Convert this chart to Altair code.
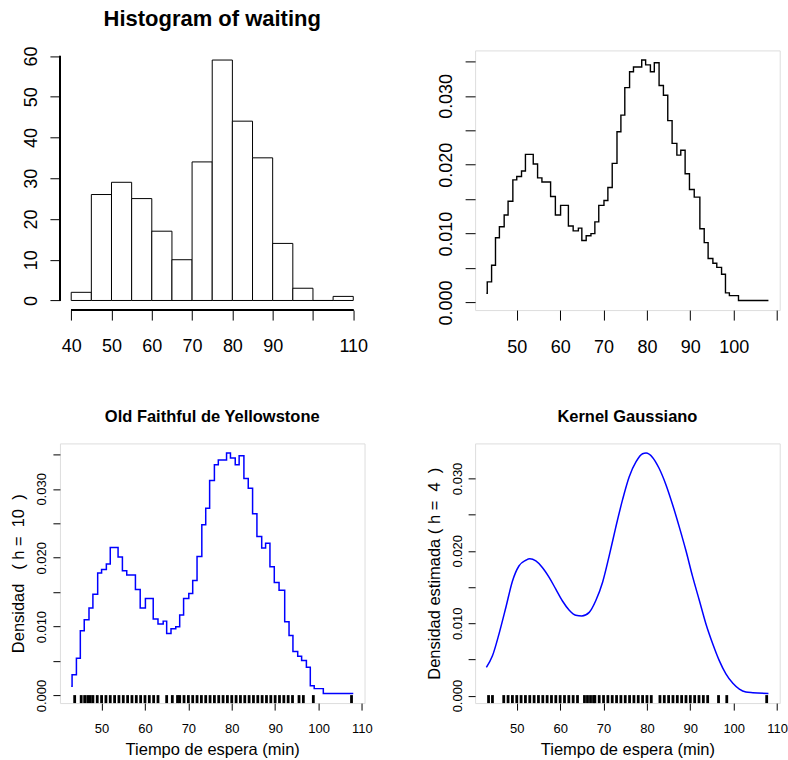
import altair as alt
import pandas as pd

FONT = "Liberation Sans"
W, H = 305, 260

# ---------------- data ----------------
hist_start = [40, 45, 50, 55, 60, 65, 70, 75, 80, 85, 90, 95, 100, 105]
hist_end = [45, 50, 55, 60, 65, 70, 75, 80, 85, 90, 95, 100, 105, 110]
hist_count = [2, 26, 29, 25, 17, 10, 34, 59, 44, 35, 14, 3, 0, 1]

step_x = [43.0, 43.2, 44.2, 45.1, 46.0, 47.1, 48.0, 49.1, 50.0, 51.1, 52.0, 53.8,
          54.8, 55.8, 57.8, 58.9, 60.1, 61.9, 63.0, 64.2, 65.0, 66.0, 67.1, 68.0,
          68.9, 70.1, 71.0, 72.0, 73.1, 74.0, 74.9, 76.0, 76.9, 78.8, 79.7, 80.8,
          81.7, 82.8, 83.8, 84.8, 85.8, 86.9, 87.8, 88.8, 89.8, 90.9, 92.2, 93.2,
          94.1, 95.2, 96.1, 97.2, 98.1, 99.0, 101.1, 108.0]
step_y = [0.00135, 0.0030, 0.0054, 0.0094, 0.0110, 0.0127, 0.0147, 0.0178, 0.0183,
          0.0191, 0.0215, 0.0201, 0.0181, 0.0175, 0.0154, 0.0127, 0.0141, 0.0111,
          0.0104, 0.0108, 0.0090, 0.0097, 0.0100, 0.0117, 0.0141, 0.0148, 0.0167,
          0.0202, 0.0248, 0.0272, 0.0312, 0.0335, 0.0342, 0.0352, 0.0345, 0.0335,
          0.0348, 0.0315, 0.0301, 0.0264, 0.0231, 0.0214, 0.0221, 0.0187, 0.0164,
          0.0153, 0.0107, 0.0087, 0.0064, 0.0057, 0.0051, 0.0041, 0.0014, 0.0010,
          0.0003, 0.0003]

gauss_x = [43, 44.4, 45.9, 47.5, 49, 50.5, 52.1, 53, 54.4, 55.9, 57.5, 59, 60.5,
           62.1, 63.6, 65, 66.7, 68.2, 69.8, 71.3, 72.8, 74.4, 75.9, 77.5, 79, 79.8,
           81.3, 82.8, 84.4, 85.9, 87.5, 89, 90.5, 92.1, 93.6, 95.2, 96.7, 98.2,
           99.8, 101.3, 102.8, 104.4, 108]
gauss_y = [0.0039, 0.0055, 0.0085, 0.0122, 0.0158, 0.0179, 0.0187, 0.0189, 0.0186,
           0.0177, 0.0163, 0.0147, 0.0131, 0.0118, 0.0111, 0.0110, 0.0115, 0.0131,
           0.0157, 0.0193, 0.0232, 0.0271, 0.0302, 0.0323, 0.0334, 0.0335, 0.0329,
           0.0314, 0.0291, 0.0264, 0.0232, 0.0200, 0.0165, 0.0131, 0.0099, 0.0071,
           0.0048, 0.0030, 0.0017, 0.0009, 0.0005, 0.0004, 0.0003]

rug_left = [43.8, 45.3, 46.1, 46.8, 47.4, 48, 49, 50, 51, 52, 53, 54, 55, 56, 57,
            58, 59, 60, 61, 62, 63, 65, 66.3, 67.5, 68, 69, 70, 71, 72, 73, 74, 75,
            76, 77, 78, 79, 80, 81, 82, 83, 84, 85, 86, 87, 88, 89, 90, 91, 92, 93,
            94, 95.5, 96.5, 98.8, 107.6]
rug_right = [43.5, 44.4, 47, 48, 49, 50, 51, 52, 53, 54, 55, 56, 57, 58, 59, 60, 61,
             62, 63, 64, 65.6, 66.3, 67, 67.7, 68, 69, 70, 71, 72, 73, 74, 75, 76,
             77, 78, 79, 80, 81, 83, 84, 85, 86, 87, 88, 89, 90, 91, 92, 93, 94,
             96.5, 98.4, 107.6]

hist_xticks = [40, 50, 60, 70, 80, 90, 100, 110]
hist_yticks = [0, 10, 20, 30, 40, 50, 60]
dens_xticks = [50, 60, 70, 80, 90, 100, 110]
dens_yticks = [0, 0.005, 0.01, 0.015, 0.02, 0.025, 0.03, 0.035]
kern_yticks = [0, 0.005, 0.01, 0.015, 0.02, 0.025, 0.03]

NB = "\u00a0"
title_hist = "Histogram of waiting"
title_c = "Old Faithful de Yellowstone"
title_d = "Kernel Gaussiano"
xlab = "Tiempo de espera (min)"
ylab_c = "Densidad" + NB * 3 + "(" + NB + "h" + NB + "=" + NB * 2 + "10" + NB * 2 + ")"
ylab_d = "Densidad estimada (" + NB + "h" + NB + "=" + NB * 2 + "4" + NB * 2 + ")"

# ---------------- helpers ----------------
def ax(**kw):
    base = dict(domain=False, grid=False, tickColor="black", tickWidth=1,
                labelColor="black", labelFont=FONT, labelFlush=False,
                labelOverlap=False, titleFont=FONT, titleColor="black",
                titleFontWeight="normal")
    base.update(kw)
    return alt.Axis(**base)

ylab_expr = "(round(datum.value*1000) % 10 == 0) ? format(datum.value, '.3f') : ''"

xA = alt.Scale(domain=[37.2, 112.8], nice=False, zero=False)
yA = alt.Scale(domain=[-2.36, 61.36], nice=False, zero=False)
xD = alt.Scale(domain=[40.4, 110.6], nice=False, zero=False)
yStep = alt.Scale(domain=[-0.0011, 0.0366], nice=False, zero=False)
yKern = alt.Scale(domain=[-0.00103, 0.03483], nice=False, zero=False)

# ---------------- panel A: histogram ----------------
hist_df = pd.DataFrame({"start": hist_start, "end": hist_end, "count": hist_count})
axAx = ax(values=hist_xticks, labelExpr="datum.value == 100 ? '' : datum.label",
          tickSize=10, labelFontSize=18, labelBaseline="alphabetic", labelPadding=31,
          title=None)
axAy = ax(values=hist_yticks, tickSize=10, labelFontSize=18, labelAngle=270,
          labelAlign="center", labelBaseline="alphabetic", labelPadding=13.5, title=None)
bars = alt.Chart(hist_df).mark_rect(fill="white", stroke="black", strokeWidth=1).encode(
    x=alt.X("start:Q", scale=xA, axis=axAx),
    x2="end:Q",
    y=alt.Y("count:Q", scale=yA, axis=axAy),
    y2=alt.datum(0),
)
xline = alt.Chart(hist_df).mark_rule(color="black", strokeWidth=1).encode(
    x=alt.datum(hist_xticks[0]), x2=alt.datum(hist_xticks[-1]), y=alt.value(H))
yline = alt.Chart(hist_df).mark_rule(color="black", strokeWidth=1).encode(
    x=alt.value(0), y=alt.datum(hist_yticks[0]), y2=alt.datum(hist_yticks[-1]))
A = alt.layer(bars, xline, yline).properties(
    width=W, height=H,
    view=alt.ViewBackground(stroke="transparent"),
    title=alt.TitleParams(title_hist, font=FONT, fontSize=22, fontWeight="bold",
                          color="black", frame="group", anchor="middle",
                          baseline="alphabetic", offset=-2),
)

# ---------------- panel B: naive estimator, black ----------------
step_df = pd.DataFrame({"x": step_x, "y": step_y})
axBx = ax(values=dens_xticks, labelExpr="datum.value == 110 ? '' : datum.label",
          tickSize=10, labelFontSize=18, labelBaseline="alphabetic", labelPadding=32,
          title=None)
axBy = ax(values=dens_yticks, labelExpr=ylab_expr, tickSize=10, labelFontSize=18,
          labelAngle=270, labelAlign="center", labelBaseline="alphabetic",
          labelPadding=13.5, title=None)
B = alt.Chart(step_df).mark_line(interpolate="step-after", color="black",
                                 strokeWidth=1.4).encode(
    x=alt.X("x:Q", scale=xD, axis=axBx),
    y=alt.Y("y:Q", scale=yStep, axis=axBy),
).properties(width=W, height=H)

# ---------------- panel C: naive estimator, blue + rug ----------------
axCx = ax(values=dens_xticks, tickSize=7, labelFontSize=13, labelBaseline="alphabetic",
          labelPadding=22, title=xlab, titleFontSize=16.5, titleBaseline="alphabetic",
          titleY=51, titleX=W / 2, titleAlign="center")
axCy = ax(values=dens_yticks, labelExpr=ylab_expr, tickSize=7, labelFontSize=13,
          labelAngle=270, labelAlign="center", labelBaseline="alphabetic",
          labelPadding=7, title=ylab_c, titleFontSize=16.5, titleAngle=270,
          titleAlign="center", titleBaseline="alphabetic", titleX=-36, titleY=H / 2)
c_line = alt.Chart(step_df).mark_line(interpolate="step-after", color="#0000ff",
                                      strokeWidth=1.5).encode(
    x=alt.X("x:Q", scale=xD, axis=axCx),
    y=alt.Y("y:Q", scale=yStep, axis=axCy),
)
c_rug = alt.Chart(pd.DataFrame({"x": rug_left})).mark_rule(
    color="black", strokeWidth=2.8).encode(
    x=alt.X("x:Q", scale=xD, axis=axCx), y=alt.value(H), y2=alt.value(H - 8))
C = alt.layer(c_line, c_rug).properties(
    width=W, height=H,
    title=alt.TitleParams(title_c, font=FONT, fontSize=16.5, fontWeight="bold",
                          color="black", frame="group", anchor="middle",
                          baseline="alphabetic", offset=5),
)

# ---------------- panel D: gaussian kernel + rug ----------------
gauss_df = pd.DataFrame({"x": gauss_x, "y": gauss_y})
axDx = ax(values=dens_xticks, tickSize=7, labelFontSize=13, labelBaseline="alphabetic",
          labelPadding=22, title=xlab, titleFontSize=16.5, titleBaseline="alphabetic",
          titleY=51, titleX=W / 2, titleAlign="center")
axDy = ax(values=kern_yticks, labelExpr=ylab_expr, tickSize=7, labelFontSize=13,
          labelAngle=270, labelAlign="center", labelBaseline="alphabetic",
          labelPadding=7, title=ylab_d, titleFontSize=16.5, titleAngle=270,
          titleAlign="center", titleBaseline="alphabetic", titleX=-36, titleY=H / 2)
d_line = alt.Chart(gauss_df).mark_line(interpolate="monotone", color="#0000ff",
                                       strokeWidth=1.5).encode(
    x=alt.X("x:Q", scale=xD, axis=axDx),
    y=alt.Y("y:Q", scale=yKern, axis=axDy),
)
d_rug = alt.Chart(pd.DataFrame({"x": rug_right})).mark_rule(
    color="black", strokeWidth=2.8).encode(
    x=alt.X("x:Q", scale=xD, axis=axDx), y=alt.value(H), y2=alt.value(H - 8))
D = alt.layer(d_line, d_rug).properties(
    width=W, height=H,
    title=alt.TitleParams(title_d, font=FONT, fontSize=16.5, fontWeight="bold",
                          color="black", frame="group", anchor="middle",
                          baseline="alphabetic", offset=5),
)

chart = alt.concat(A, B, C, D, columns=2,
                   spacing={"row": 133.5, "column": 110.7}).properties(
    bounds="flush",
    padding={"left": 10, "top": 7, "right": 0, "bottom": 0},
    background="white",
).configure_view(stroke="black", strokeWidth=1).configure(font=FONT)

chart.save("out.html", embed_options={"renderer": "svg", "actions": False})
